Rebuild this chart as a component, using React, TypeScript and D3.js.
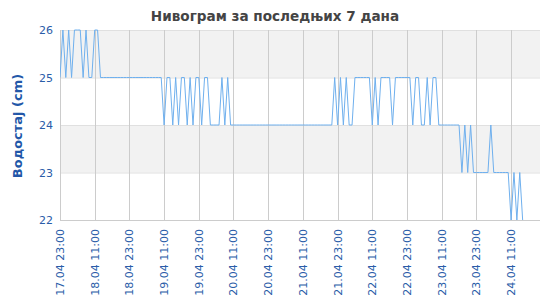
import React from "react";
import * as d3 from "d3";

const title = "Нивограм за последњих 7 дана";
const yTitle = "Водостај (cm)";
const startLabel = "17.04 23:00";
const endLabel = "24.04 21:00";
const tickLabels = [
  "17.04 23:00", "18.04 11:00", "18.04 23:00", "19.04 11:00", "19.04 23:00",
  "20.04 11:00", "20.04 23:00", "21.04 11:00", "21.04 23:00", "22.04 11:00",
  "22.04 23:00", "23.04 11:00", "23.04 23:00", "24.04 11:00",
];
const yTicks = [22, 23, 24, 25, 26];
// hourly water level readings starting at 17.04 23:00
const levels = [
  25, 26, 25, 26, 25, 26, 26, 26, 25, 26, 25, 25, 26, 26, 25,
  25, 25, 25, 25, 25, 25, 25, 25, 25, 25, 25, 25, 25, 25, 25, 25, 25, 25, 25, 25, 25,
  24, 25, 25, 24, 25, 24, 25, 25, 24, 25, 24, 25, 25, 24, 25, 25, 24, 24, 24, 24, 25, 24, 25, 24,
  24, 24, 24, 24, 24, 24, 24, 24, 24, 24, 24, 24, 24, 24, 24, 24, 24, 24, 24, 24, 24, 24, 24, 24, 24, 24, 24, 24, 24, 24, 24, 24, 24, 24, 24,
  25, 24, 25, 24, 25, 24, 24, 25, 25, 25, 25, 25, 25, 24, 25, 24, 25, 25, 25, 25, 24, 25, 25, 25, 25, 25, 25, 24, 25, 25, 24, 24, 25, 24, 25, 25, 24,
  24, 24, 24, 24, 24, 24, 24, 23, 24, 23, 24, 23, 23, 23, 23, 23, 23, 24, 23, 23, 23, 23, 23, 23, 22, 23, 22, 23, 22,
];

const parse = d3.timeParse("%d.%m %H:%M");

export default function App() {
  const W = 550, H = 300;
  const m = { l: 60, r: 540, t: 30, b: 220 };
  const start = parse(startLabel)!;
  const end = parse(endLabel)!;
  const x = d3.scaleTime().domain([start, end]).range([m.l, m.r]);
  const y = d3.scaleLinear().domain([22, 26]).range([m.b, m.t]);
  const data = levels.map((v, i) => ({ t: d3.timeHour.offset(start, i), v }));
  const line = d3.line<{ t: Date; v: number }>().x((d) => x(d.t)).y((d) => y(d.v));
  const font = "'DejaVu Sans', sans-serif";
  const blue = "#2a5ca8";
  return (
    <svg width={W} height={H} style={{ position: "absolute", left: 0, top: 0, background: "#fff" }}>
      <rect x={0} y={0} width={W} height={H} fill="#fff" />
      {[25, 23].map((v) => (
        <rect key={v} x={m.l} y={y(v + 1)} width={m.r - m.l} height={y(v) - y(v + 1)} fill="#f2f2f2" />
      ))}
      {yTicks.filter((v) => v !== 22).map((v) => (
        <line key={v} x1={m.l} x2={m.r} y1={y(v) + 0.5} y2={y(v) + 0.5} stroke="#e0e0e0" />
      ))}
      {tickLabels.map((lab) => {
        const px = Math.round(x(parse(lab)!)) + 0.5;
        return <line key={lab} x1={px} x2={px} y1={m.t} y2={m.b} stroke="#cccccc" />;
      })}
      <line x1={m.l} x2={m.r} y1={m.b + 0.5} y2={m.b + 0.5} stroke="#cccccc" />
      <defs>
        <clipPath id="clip">
          <rect x={m.l} y={m.t - 1} width={m.r - m.l} height={m.b - m.t + 2} />
        </clipPath>
      </defs>
      <path d={line(data)!} fill="none" stroke="#6fb0ee" strokeWidth={1} clipPath="url(#clip)" />
      {yTicks.map((v) => (
        <text key={v} x={53} y={y(v) + 4} textAnchor="end" fontFamily={font} fontSize={11} fill={blue}>
          {v}
        </text>
      ))}
      {tickLabels.map((lab) => {
        const px = x(parse(lab)!);
        return (
          <text
            key={lab}
            transform={`translate(${px + 4},${m.b + 9}) rotate(-90)`}
            textAnchor="end"
            fontFamily={font}
            fontSize={11}
            fill={blue}
          >
            {lab}
          </text>
        );
      })}
      <text
        transform={`translate(22,${(m.t + m.b) / 2 + 1}) rotate(-90)`}
        textAnchor="middle"
        fontFamily={font}
        fontSize={13}
        fontWeight="bold"
        fill="#2257a8"
      >
        {yTitle}
      </text>
      <text x={275} y={21} textAnchor="middle" fontFamily={font} fontSize={13.6} fontWeight="bold" fill="#444444">
        {title}
      </text>
    </svg>
  );
}
